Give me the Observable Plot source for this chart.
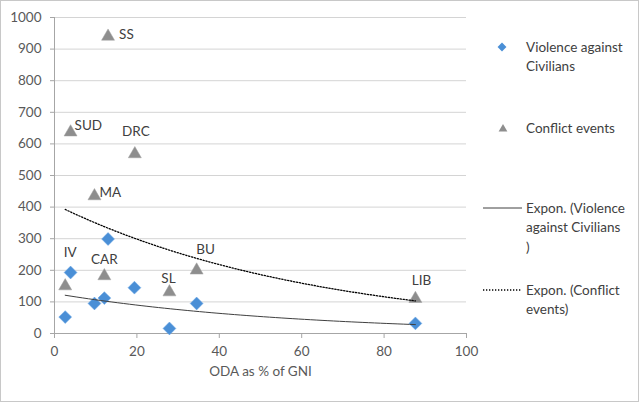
<!DOCTYPE html>
<html>
<head>
<meta charset="utf-8">
<script src="https://cdn.jsdelivr.net/npm/d3@7"></script>
<script src="https://cdn.jsdelivr.net/npm/@observablehq/plot@0.6"></script>
<style>
  html, body { margin: 0; padding: 0; background: white; }
  #chart { width: 640px; height: 404px; }
</style>
</head>
<body>
<div id="chart"></div>
<script>
// ---- Data ----
const violenceX = [2.6, 3.9, 9.7, 12.1, 13.0, 19.4, 27.9, 34.5, 87.6];
const violenceY = [52, 193, 95, 112, 299, 145, 16, 95, 32];

const conflictLabels = ["SS", "SUD", "DRC", "MA", "IV", "CAR", "SL", "BU", "LIB"];
const conflictX = [13.0, 3.9, 19.5, 9.7, 2.6, 12.1, 27.9, 34.5, 87.6];
const conflictY = [940, 637, 568, 435, 150, 182, 131, 200, 110];

const xTicks = [0, 20, 40, 60, 80, 100];
const yTicks = [0, 100, 200, 300, 400, 500, 600, 700, 800, 900, 1000];

const xTitle = "ODA as % of GNI";
const legendLabels = [
  ["Violence against", "Civilians"],
  ["Conflict events"],
  ["Expon. (Violence", "against Civilians", ")"],
  ["Expon. (Conflict", "events)"]
];

// ---- Derived tables ----
const violence = violenceX.map((x, i) => ({x, y: violenceY[i]}));
const conflict = conflictX.map((x, i) => ({x, y: conflictY[i], label: conflictLabels[i]}));

// Exponential trendline (least squares on ln y), as in the spreadsheet
function expFit(data) {
  const mx = d3.mean(data, d => d.x);
  const ml = d3.mean(data, d => Math.log(d.y));
  const sxy = d3.sum(data, d => (d.x - mx) * (Math.log(d.y) - ml));
  const sxx = d3.sum(data, d => (d.x - mx) ** 2);
  const b = sxy / sxx;
  const a = Math.exp(ml - b * mx);
  const [x0, x1] = d3.extent(data, d => d.x);
  return d3.range(0, 61).map(i => {
    const x = x0 + (x1 - x0) * i / 60;
    return {x, y: a * Math.exp(b * x)};
  });
}
const violenceTrend = expFit(violence);
const conflictTrend = expFit(conflict);

// label placement (style, not data)
const labelPlace = {
  SS:  {dx: 11, dy: -2, anchor: "start"},
  SUD: {dx: 4, dy: -7, anchor: "start"},
  DRC: {dx: 1, dy: -22, anchor: "middle"},
  MA:  {dx: 5, dy: -3, anchor: "start"},
  IV:  {dx: 5, dy: -33, anchor: "middle"},
  CAR: {dx: 0, dy: -16, anchor: "middle"},
  SL:  {dx: -1, dy: -13, anchor: "middle"},
  BU:  {dx: 9, dy: -21, anchor: "middle"},
  LIB: {dx: 6, dy: -18, anchor: "middle"}
};

const blue = "#4A8FD6";
const gray = "#8E8E8E";
const textColor = "#404040";
const font = "Lato, 'Open Sans', sans-serif";

const labelMarks = conflict.map(d => {
  const p = labelPlace[d.label];
  return Plot.text([d], {x: "x", y: "y", text: "label", dx: p.dx, dy: p.dy,
    textAnchor: p.anchor, fill: textColor, fontSize: 13.5});
});

const chart = Plot.plot({
  width: 640,
  height: 404,
  marginLeft: 54,
  marginRight: 174,
  marginTop: 17,
  marginBottom: 71,
  style: {fontFamily: font, fontSize: "13px", color: "#595959", background: "white", overflow: "visible"},
  x: {domain: [0, 100]},
  y: {domain: [0, 1000]},
  marks: [
    Plot.gridY(yTicks.filter(t => t > 0), {stroke: "#d4d4d4", strokeOpacity: 1}),
    Plot.ruleY([0], {stroke: "#a6a6a6"}),
    Plot.ruleX([0], {stroke: "#a6a6a6"}),
    Plot.axisX(xTicks, {tickSize: 5, tickPadding: 8, stroke: "#a6a6a6", fill: "#595959", fontSize: 13.5, label: null, tickFormat: d => String(d)}),
    Plot.axisY(yTicks, {tickSize: 4, tickPadding: 9, stroke: "#a6a6a6", fill: "#595959", fontSize: 13.5, label: null, tickFormat: d => String(d)}),
    Plot.text([xTitle], {frameAnchor: "bottom", dy: 42, fill: "#595959", fontSize: 13.5}),
    Plot.dot(violence, {x: "x", y: "y", symbol: "diamond2", r: 5.8, fill: blue, stroke: "#6aa6e6", strokeWidth: 0.5}),
    Plot.dot(conflict, {x: "x", y: "y", symbol: "triangle2", r: 6.2, fill: gray, stroke: "#a0a0a0", strokeWidth: 0.5}),
    Plot.line(violenceTrend, {x: "x", y: "y", stroke: "#404040", strokeWidth: 1}),
    Plot.line(conflictTrend, {x: "x", y: "y", stroke: "#000", strokeWidth: 1.3, strokeDasharray: "1.3,1.7"}),
    ...labelMarks
  ]
});

document.getElementById("chart").appendChild(chart);

// ---- Legend and chart border ----
const svg = d3.select(chart);
svg.append("rect")
  .attr("x", 0.5).attr("y", 0.5).attr("width", 638).attr("height", 401)
  .attr("fill", "none").attr("stroke", "#c8c8c8");

const lg = svg.append("g").attr("font-family", font).attr("font-size", 13.5)
  .attr("fill", textColor).attr("text-anchor", "start");
const textX = 526;
const rows = [47, 128, 208, 290];
const lineH = 19.5;
legendLabels.forEach((lines, i) => {
  const t = lg.append("text").attr("x", textX).attr("y", rows[i]).attr("text-anchor", "start");
  lines.forEach((s, j) => t.append("tspan").attr("x", textX).attr("dy", j === 0 ? "0.35em" : lineH).text(s));
});
lg.append("path").attr("d", d3.symbol(d3.symbolDiamond2, 50)()).attr("transform", `translate(502,${rows[0]})`).attr("fill", blue);
lg.append("path").attr("d", d3.symbol(d3.symbolTriangle2, 55)()).attr("transform", `translate(503,${rows[1] + 1})`).attr("fill", gray);
lg.append("line").attr("x1", 483).attr("x2", 522).attr("y1", rows[2]).attr("y2", rows[2]).attr("stroke", "#404040").attr("stroke-width", 1);
lg.append("line").attr("x1", 483).attr("x2", 521).attr("y1", rows[3]).attr("y2", rows[3]).attr("stroke", "#000").attr("stroke-width", 1.3).attr("stroke-dasharray", "1.3,1.7");
</script>
</body>
</html>
